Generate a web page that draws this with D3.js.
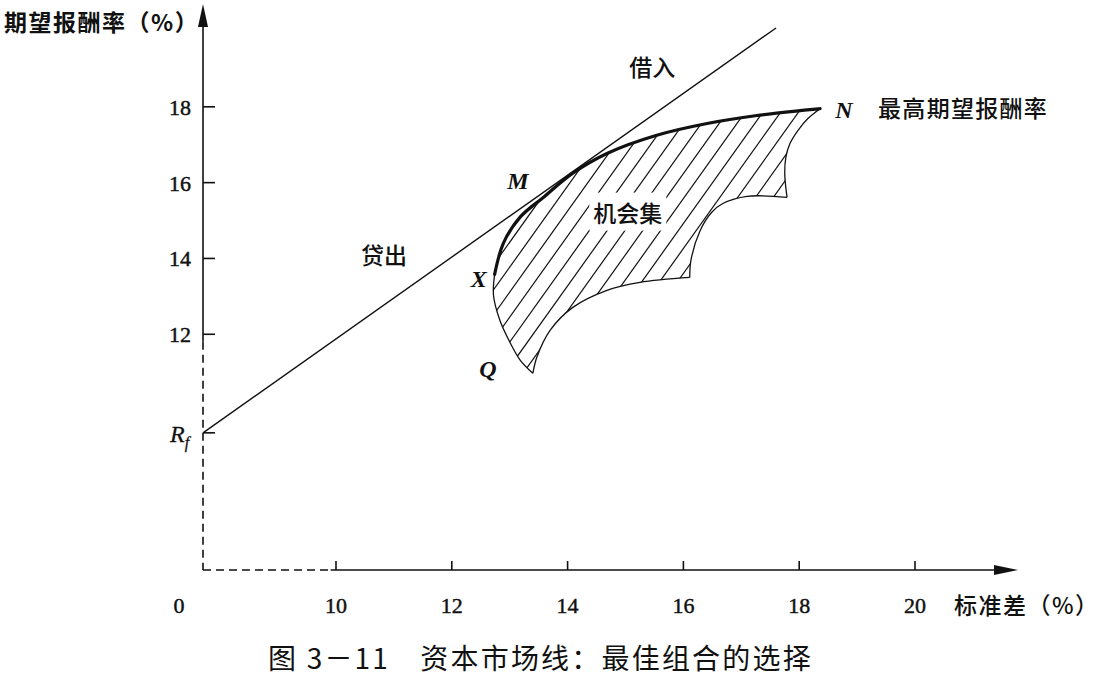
<!DOCTYPE html>
<html><head><meta charset="utf-8">
<script src="https://cdn.jsdelivr.net/npm/d3@7"></script>
<style>
html,body{margin:0;padding:0;background:#fff;}
svg{display:block;}
</style></head>
<body>
<svg id="chart" width="1099" height="678"></svg>
<script>
// ---------------- data ----------------
const xTickValues = [10, 12, 14, 16, 18, 20];
const yTickValues = [12, 14, 16, 18];
const riskFree = 9.4;
// capital market line (σ, E)
const cmlSigma  = [0, 17.6];
const cmlReturn = [9.4, 20.08];
// efficient frontier X -> N
const frontierSigma  = [12.74, 12.89, 13.18, 13.58, 14.09, 14.68, 15.54, 16.41, 17.27, 18.36];
const frontierReturn = [13.58, 14.40, 15.09, 15.61, 16.25, 16.77, 17.25, 17.56, 17.77, 17.95];
// left edge X -> Q
const leftSigma  = [12.74, 12.72, 12.83, 13.01, 13.18, 13.40];
const leftReturn = [13.58, 13.03, 12.37, 11.77, 11.32, 10.97];
// lower scalloped edge: three arcs
const arc1Sigma  = [13.40, 13.47, 13.70, 14.09, 14.68, 15.25, 16.11];
const arc1Return = [10.97, 11.40, 12.11, 12.71, 13.16, 13.37, 13.50];
const arc2Sigma  = [16.11, 16.13, 16.29, 16.49, 16.68, 17.10, 17.79];
const arc2Return = [13.50, 13.95, 14.74, 15.22, 15.45, 15.64, 15.61];
const arc3Sigma  = [17.79, 17.75, 17.77, 17.84, 17.98, 18.15, 18.36];
const arc3Return = [15.61, 16.25, 16.67, 17.03, 17.38, 17.69, 17.95];
// named points
const pointNames  = ["M", "X", "Q", "N"];
const pointSigma  = [14.09, 12.74, 13.40, 18.36];
const pointReturn = [16.27, 13.58, 10.97, 17.95];
// text annotations
const noteTexts  = ["借入", "贷出", "机会集"];
const noteSigma  = [15.46, 10.83, 15.04];
const noteReturn = [19.04, 14.06, 15.19];
const yAxisTitle = "期望报酬率（%）";
const xAxisTitle = "标准差（%）";
const maxLabel = "最高期望报酬率";
const caption = "图 3－11　资本市场线：最佳组合的选择";

// ---------------- scales (axes are broken between 0 and 10 / 0 and 9) ----------------
const ox = 203, oy = 570;
const x = d3.scaleLinear().domain([0, 10, 20]).range([ox, 336, 915]);
const y = d3.scaleLinear().domain([0, 9, 20]).range([oy, 448, 31]);

const svg = d3.select("#chart");
const ink = "#111";
const serif = "'Liberation Serif','DejaVu Serif',serif";
const cjk = "'Noto Sans CJK SC','Noto Sans CJK JP',sans-serif";

const zip = (a, b) => a.map((v, i) => [v, b[i]]);
const frontier = zip(frontierSigma, frontierReturn);
const left = zip(leftSigma, leftReturn);
const arc1 = zip(arc1Sigma, arc1Return);
const arc2 = zip(arc2Sigma, arc2Return);
const arc3 = zip(arc3Sigma, arc3Return);

const line = d3.line().x(d => x(d[0])).y(d => y(d[1])).curve(d3.curveCatmullRom.alpha(0.5));

// ---------------- opportunity set: hatch ----------------
const segs = [frontier, arc3.slice().reverse(), arc2.slice().reverse(), arc1.slice().reverse(), left.slice().reverse()];
const regionD = segs.map((s, i) => { const d = line(s); return i === 0 ? d : d.replace(/^M/, "L"); }).join("") + "Z";
const defs = svg.append("defs");
defs.append("clipPath").attr("id", "oppClip").append("path").attr("d", regionD);

const dir = [0.581, -0.814], nrm = [0.814, 0.581];
const allPts = [].concat(...segs).map(d => [x(d[0]), y(d[1])]);
const proj = allPts.map(p => p[0] * nrm[0] + p[1] * nrm[1]);
const pMin = d3.min(proj), pMax = d3.max(proj);
const step = 14.5;
const hatchOffsets = d3.range(pMin + 6, pMax, step);
svg.append("g").attr("clip-path", "url(#oppClip)")
  .selectAll("line").data(hatchOffsets).join("line")
  .attr("x1", p => p * nrm[0] - 400 * dir[0]).attr("y1", p => p * nrm[1] - 400 * dir[1])
  .attr("x2", p => p * nrm[0] + 400 * dir[0]).attr("y2", p => p * nrm[1] + 400 * dir[1])
  .attr("stroke", ink).attr("stroke-width", 1.2);

// boundaries
[left, arc1, arc2, arc3].forEach(s => {
  svg.append("path").attr("d", line(s)).attr("fill", "none").attr("stroke", ink).attr("stroke-width", 1.3);
});
svg.append("path").attr("d", line(frontier)).attr("fill", "none").attr("stroke", ink).attr("stroke-width", 3.2).attr("stroke-linecap", "round");

// capital market line
svg.append("line")
  .attr("x1", x(cmlSigma[0])).attr("y1", y(cmlReturn[0]))
  .attr("x2", x(cmlSigma[1])).attr("y2", y(cmlReturn[1]))
  .attr("stroke", ink).attr("stroke-width", 1.4);

// ---------------- axes ----------------
const yBreak = 11.8, xBreak = 9.6;
svg.append("line").attr("x1", ox).attr("x2", ox).attr("y1", 14).attr("y2", y(yBreak))
  .attr("stroke", ink).attr("stroke-width", 1.6);
svg.append("line").attr("x1", ox).attr("x2", ox).attr("y1", y(yBreak)).attr("y2", oy)
  .attr("stroke", ink).attr("stroke-width", 1.6).attr("stroke-dasharray", "8,5");
svg.append("path").attr("d", `M${ox},4 L${ox - 5},27 L${ox + 5},27 Z`).attr("fill", ink);
svg.append("line").attr("x1", ox).attr("x2", x(xBreak)).attr("y1", oy).attr("y2", oy)
  .attr("stroke", ink).attr("stroke-width", 1.6).attr("stroke-dasharray", "8,5");
svg.append("line").attr("x1", x(xBreak)).attr("x2", 1005).attr("y1", oy).attr("y2", oy)
  .attr("stroke", ink).attr("stroke-width", 1.6);
svg.append("path").attr("d", `M1018,${oy} L994,${oy - 5} L994,${oy + 5} Z`).attr("fill", ink);

const numStyle = sel => sel.attr("font-family", serif).attr("font-size", 22).attr("fill", ink)
  .attr("stroke", ink).attr("stroke-width", 0.45);

// y ticks
const yt = svg.append("g");
yt.selectAll("line").data(yTickValues.concat([riskFree])).join("line")
  .attr("x1", ox).attr("x2", ox + 12).attr("y1", d => y(d)).attr("y2", d => y(d))
  .attr("stroke", ink).attr("stroke-width", 1.6);
yt.selectAll("text").data(yTickValues).join("text")
  .attr("x", ox - 12).attr("y", d => y(d)).attr("dy", "0.36em")
  .attr("text-anchor", "end").call(numStyle)
  .text(d => d);
// Rf label
const rf = svg.append("text").attr("x", ox - 33).attr("y", y(riskFree) + 9)
  .attr("font-family", serif).attr("font-style", "italic").attr("font-size", 24).attr("fill", ink)
  .attr("stroke", ink).attr("stroke-width", 0.3);
rf.append("tspan").text("R");
rf.append("tspan").attr("font-size", 16).attr("dy", 6).text("f");

// x ticks
const xt = svg.append("g");
xt.selectAll("line").data(xTickValues).join("line")
  .attr("x1", d => x(d)).attr("x2", d => x(d)).attr("y1", oy).attr("y2", oy - 9)
  .attr("stroke", ink).attr("stroke-width", 1.6);
xt.selectAll("text").data(xTickValues).join("text")
  .attr("x", d => x(d)).attr("y", 613)
  .attr("text-anchor", "middle").call(numStyle)
  .text(d => d);
svg.append("text").attr("x", ox - 24).attr("y", 613).attr("text-anchor", "middle")
  .call(numStyle).text("0");

// axis titles
svg.append("text").attr("x", 4).attr("y", 31).attr("font-family", cjk).attr("font-weight", 700)
  .attr("font-size", 23).attr("letter-spacing", 1.5).attr("fill", ink).text(yAxisTitle);
svg.append("text").attr("x", 954).attr("y", 614).attr("font-family", cjk).attr("font-weight", 500)
  .attr("font-size", 23).attr("letter-spacing", 1.5).attr("fill", ink).text(xAxisTitle);

// point labels
const pdx = { M: -55, X: -16, Q: -45, N: 24 };
const pdy = { M: 8, X: 4, Q: -5, N: 1 };
svg.selectAll("text.pt").data(pointNames).join("text").attr("class", "pt")
  .attr("x", (d, i) => x(pointSigma[i]) + pdx[d]).attr("y", (d, i) => y(pointReturn[i]) + pdy[d])
  .attr("dy", "0.35em").attr("text-anchor", "middle")
  .attr("font-family", serif).attr("font-style", "italic").attr("font-weight", 700)
  .attr("font-size", 24).attr("fill", ink)
  .text(d => d);

svg.append("text").attr("x", x(pointSigma[3]) + 58).attr("y", y(pointReturn[3])).attr("dy", "0.36em")
  .attr("font-family", cjk).attr("font-weight", 500).attr("font-size", 23).attr("letter-spacing", 1.3)
  .attr("fill", ink).text(maxLabel);

// annotations (with white backing for the hatched one)
noteTexts.forEach((t, i) => {
  const g = svg.append("g");
  const tx = g.append("text").attr("x", x(noteSigma[i])).attr("y", y(noteReturn[i])).attr("dy", "0.36em")
    .attr("text-anchor", "middle").attr("font-family", cjk).attr("font-weight", 500)
    .attr("font-size", 23).attr("fill", ink).text(t);
  if (i === 2) {
    const b = tx.node().getBBox();
    g.insert("rect", "text").attr("x", b.x - 4).attr("y", b.y - 2).attr("width", b.width + 8).attr("height", b.height + 4).attr("fill", "#fff");
  }
});

// caption
svg.append("text").attr("x", 268).attr("y", 669).attr("font-family", cjk).attr("font-weight", 400)
  .attr("font-size", 28).attr("letter-spacing", 2.2).attr("fill", ink).text(caption);
</script>
</body></html>
